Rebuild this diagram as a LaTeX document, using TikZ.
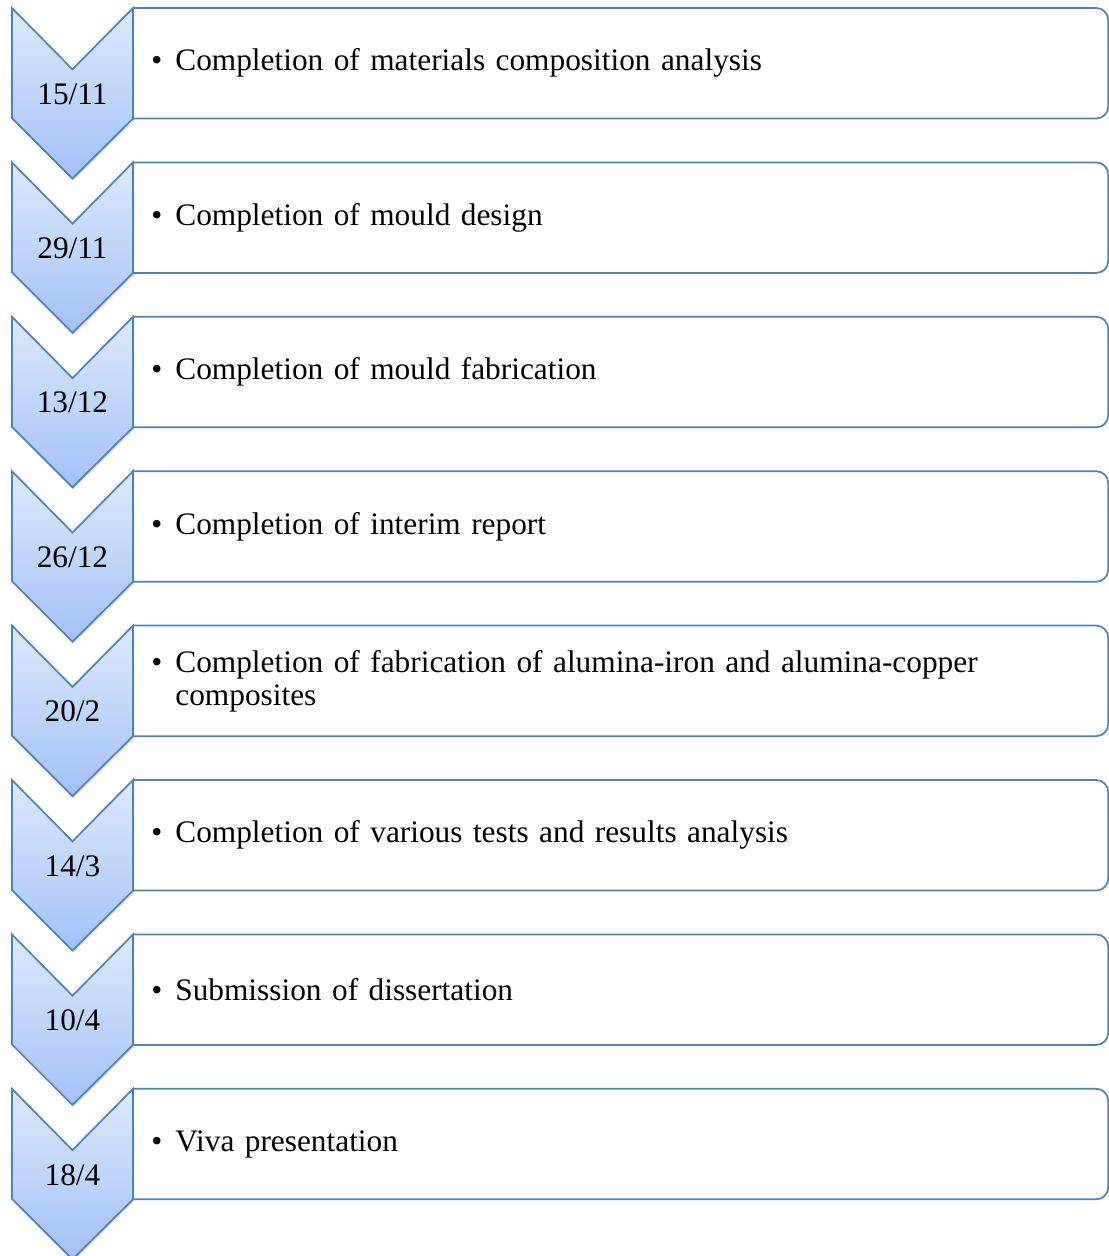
\documentclass[tikz,border=0pt]{standalone}
\usepackage{fontspec}
\setmainfont{Liberation Serif}
\usetikzlibrary{positioning, shadows}

\definecolor{chevline}{RGB}{79,129,189}
\definecolor{chevtop}{RGB}{221,233,252}
\definecolor{chevbot}{RGB}{163,193,245}

\newcommand{\itembullet}{\makebox[0.77em][l]{\textbullet}}

\begin{document}
\begin{tikzpicture}[
  font=\fontsize{23.5pt}{24.7pt}\selectfont,
  node distance=32.9pt,
  entry/.style={rectangle, minimum width=731pt, minimum height=82.5pt, text width=704pt, inner xsep=13.5pt, align=left},
  datelabel/.style={inner sep=0pt},
  chev/.style={draw=chevline, line width=1.3pt, line join=miter, top color=chevtop, bottom color=chevbot, drop shadow={opacity=0.25, shadow xshift=1pt, shadow yshift=-1.5pt}},
  boxline/.style={draw=chevline, line width=1.3pt, rounded corners=9pt}
]
  \useasboundingbox (0,0) rectangle (831.75pt,-942pt);

  % Etapas
  \node[entry, anchor=north west] (e1) at (99.75pt,-6pt) {\itembullet Completion of materials composition analysis};
  \node[entry, below=of e1] (e2) {\itembullet Completion of mould design};
  \node[entry, below=of e2] (e3) {\itembullet Completion of mould fabrication};
  \node[entry, below=of e3] (e4) {\itembullet Completion of interim report};
  \node[entry, below=of e4] (e5) {\itembullet Completion of fabrication of alumina-iron and alumina-copper\\\phantom{\itembullet}composites};
  \node[entry, below=of e5] (e6) {\itembullet Completion of various tests and results analysis};
  \node[entry, below=of e6] (e7) {\itembullet Submission of dissertation};
  \node[entry, below=of e7] (e8) {\itembullet Viva presentation};

  % Flechas y marcos
  \foreach \i in {1,...,8} {
    \draw[chev] (e\i.north west) -- ++(-45.4pt,-46pt) -- ++(-45.4pt,46pt) -- ++(0,-82.5pt) -- ++(45.4pt,-45.4pt) -- (e\i.south west) -- cycle;
    \draw[boxline] (e\i.north west) -- (e\i.north east) -- (e\i.south east) -- (e\i.south west);
  }

  % Fechas
  \node[datelabel] (d1) at ([shift={(-45.4pt,-23pt)}]e1.west) {15/11};
  \node[datelabel] (d2) at ([shift={(-45.4pt,-23pt)}]e2.west) {29/11};
  \node[datelabel] (d3) at ([shift={(-45.4pt,-23pt)}]e3.west) {13/12};
  \node[datelabel] (d4) at ([shift={(-45.4pt,-23pt)}]e4.west) {26/12};
  \node[datelabel] (d5) at ([shift={(-45.4pt,-23pt)}]e5.west) {20/2};
  \node[datelabel] (d6) at ([shift={(-45.4pt,-23pt)}]e6.west) {14/3};
  \node[datelabel] (d7) at ([shift={(-45.4pt,-23pt)}]e7.west) {10/4};
  \node[datelabel] (d8) at ([shift={(-45.4pt,-23pt)}]e8.west) {18/4};

\end{tikzpicture}
\end{document}
